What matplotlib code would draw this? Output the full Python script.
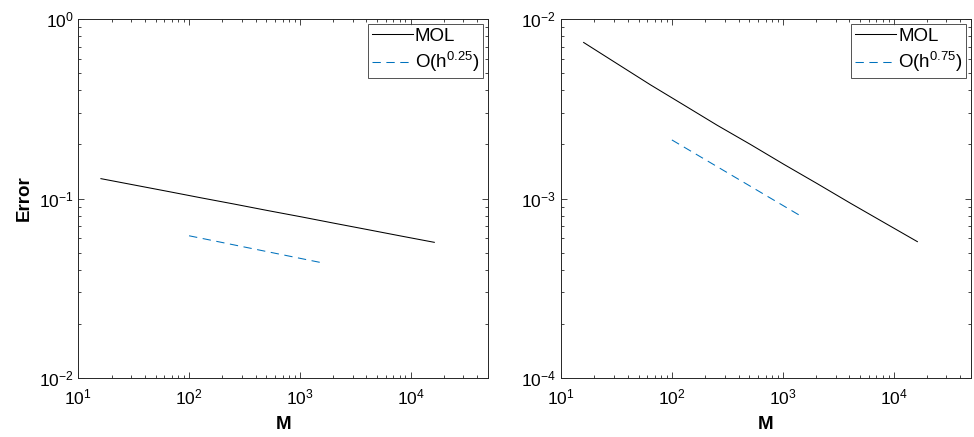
import numpy as np
import matplotlib
matplotlib.use("Agg")
import matplotlib.pyplot as plt

plt.rcParams['font.family'] = ['Liberation Sans', 'DejaVu Sans']
plt.rcParams['mathtext.fontset'] = 'custom'
plt.rcParams['mathtext.rm'] = 'Liberation Sans'
plt.rcParams['mathtext.it'] = 'Liberation Sans'
plt.rcParams['lines.scale_dashes'] = False

# grid sizes (M) and errors
M = [16, 32, 64, 128, 256, 512, 1024, 2048, 4096, 8192, 16384]
err_left = [0.129, 0.1189, 0.1096, 0.1009, 0.0931, 0.0857, 0.0791, 0.0728, 0.0671, 0.0618, 0.0570]
err_right = [7.4e-3, 5.64e-3, 4.3e-3, 3.32e-3, 2.56e-3, 2.0e-3, 1.55e-3, 1.21e-3, 9.4e-4, 7.35e-4, 5.75e-4]

# reference slope lines
ref_left_x = [100, 1600]
ref_left_y = [0.062, 0.0438]
ref_right_x = [100, 1500]
ref_right_y = [2.12e-3, 7.9e-4]

labels_left = ['MOL', r'$\mathrm{O(h^{0.25})}$']
labels_right = ['MOL', r'$\mathrm{O(h^{0.75})}$']

blue = '#0072BD'

fig = plt.figure(figsize=(9.74, 4.37), dpi=100)
ax1 = fig.add_axes([0.0804, 0.135, 0.4206, 0.8215])
ax2 = fig.add_axes([0.576, 0.135, 0.421, 0.8215])

panels = [
    (ax1, err_left, ref_left_x, ref_left_y, labels_left, (1e-2, 1e0)),
    (ax2, err_right, ref_right_x, ref_right_y, labels_right, (1e-4, 1e-2)),
]

for ax, err, rx, ry, labs, ylim in panels:
    ax.loglog(M, err, color='black', lw=0.75, label=labs[0])
    ax.loglog(rx, ry, color=blue, lw=0.75, dashes=(6, 4), label=labs[1])
    ax.set_xlim(10, 5e4)
    ax.set_ylim(*ylim)
    ax.set_xlabel('M', fontsize=13.5, fontweight='bold', labelpad=6)
    ax.tick_params(which='both', direction='in', top=True, right=True,
                   labelsize=12.5, width=0.6, color='#262626')
    ax.tick_params(axis='x', which='both', pad=7)
    ax.tick_params(which='major', length=4)
    ax.tick_params(which='minor', length=2.2)
    for s in ax.spines.values():
        s.set_linewidth(0.7)
        s.set_color('#262626')
    leg = ax.legend(loc='upper right', fontsize=13.5, frameon=True, fancybox=False,
                    edgecolor='#262626', borderaxespad=0.25, handlelength=2.2,
                    handletextpad=0.1, borderpad=0.2, labelspacing=0.3)
    leg.get_frame().set_linewidth(0.7)

ax1.set_ylabel('Error', fontsize=13.5, fontweight='bold', labelpad=4)

fig.savefig('out.png', dpi=100)
